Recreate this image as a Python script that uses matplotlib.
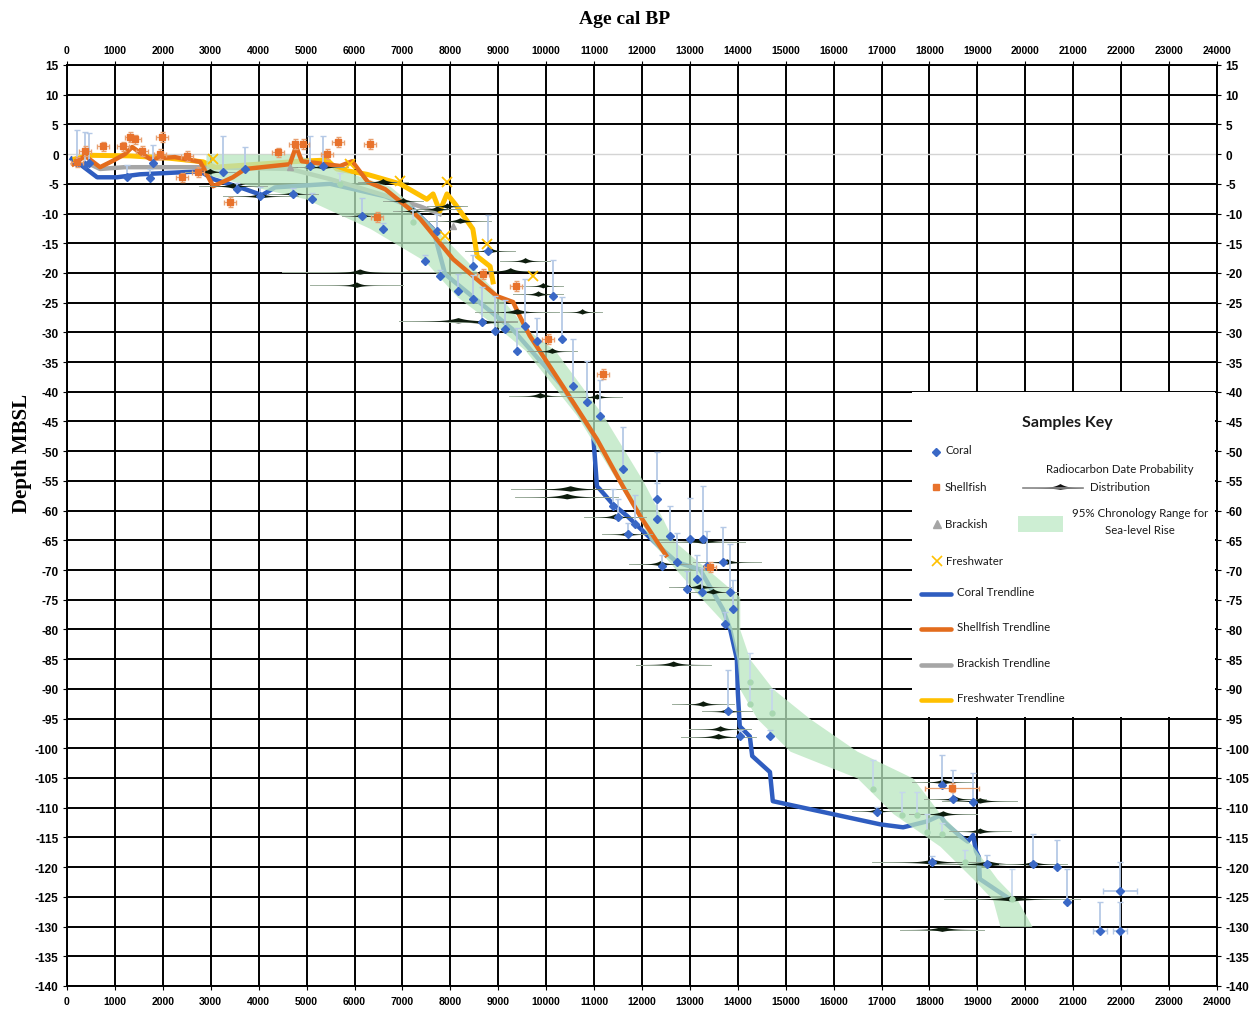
import numpy as np
import matplotlib.pyplot as plt
from matplotlib.patches import Rectangle

# 95% chronology range for sea-level rise (age limits at each depth)
band_depth = [0, -3.4, -5.4, -7.5, -12.5, -18, -24, -29.5, -33, -44, -55, -61.5, -65,
              -74.5, -80, -85, -90, -95, -100.5, -105, -111, -116.5, -122, -125.5, -130]
band_young = [2900, 2900, 3850, 4970, 6320, 7470, 8140, 9040, 9560, 10640, 11480, 11960, 12170,
              13210, 13840, 13980, 14040, 14400, 15090, 16490, 17240, 18220, 18910, 19320, 19470]
band_old = [4760, 5990, 6740, 7050, 7680, 8350, 9040, 9600, 10180, 11190, 12020, 12440, 12650,
            14040, 14040, 14250, 14730, 15500, 16490, 17650, 18220, 18910, 19410, 19830, 20140]

# Trendlines
coral_trend_age = [100, 270, 630, 1040, 1520, 2780, 3050, 3610, 4070, 4340, 5490, 6640, 7160,
                   7640, 7890, 9300, 10300, 10980, 11060, 11120, 11390, 11690, 12380, 12730,
                   13210, 13690, 13840, 13980, 14000, 14040, 14250, 14300, 14670, 14730, 16970,
                   17450, 17950, 18220, 18320, 18640, 18800, 18910, 18970, 19030, 19050, 19680]
coral_trend_depth = [-0.8, -1.7, -3.9, -3.9, -3.4, -2.9, -4.2, -5.6, -6.9, -5.6, -5.0, -7.1, -8.8,
                     -12.6, -20.2, -29.5, -38.7, -47.1, -55.9, -56.4, -58.9, -60.9, -66.2, -68.7,
                     -69.9, -76.6, -80.0, -85.0, -90.6, -96.3, -98.0, -101.3, -104.0, -108.9, -112.8,
                     -113.3, -112.3, -111.3, -112.5, -114.8, -115.7, -114.6, -117.3, -118.3, -122.0, -125.4]

shell_trend_age = [130, 380, 690, 940, 1210, 1360, 1480, 1730, 2250, 2780, 3050, 3300, 3460, 3720,
                   4650, 4780, 4900, 5700, 5950, 6280, 6640, 7160, 7370, 8060, 8470, 8970, 9310,
                   9450, 9660, 10350, 11060, 11600, 11960, 12500]
shell_trend_depth = [-1.7, -0.3, -2.2, -1.2, 0, 1.2, 0.5, -0.8, -0.5, -1.3, -5.4, -4.5, -3.9, -2.5,
                     -1.7, 1.3, -1.2, -2.0, -1.2, -4.7, -5.9, -9.3, -10.9, -17.7, -20.5, -23.9, -24.9,
                     -27.3, -30.6, -39.1, -48.0, -55.9, -60.9, -67.5]

brack_trend_age = [480, 690, 1200, 2780, 3500, 4650, 5490, 6530, 7370, 7780]
brack_trend_depth = [-1.7, -2.5, -2.2, -2.2, -2.3, -2.5, -4.2, -6.7, -8.8, -10.1]

fresh_trend_age = [170, 480, 1320, 2150, 2840, 3090, 4860, 5430, 5630, 6260, 6950, 7510, 7640,
                   7780, 7930, 8100, 8470, 8560, 8830, 8890]
fresh_trend_depth = [-0.8, -0.2, -0.3, -0.7, -1.3, -2.2, -1.2, -1.0, -2.5, -3.4, -5.0, -7.6, -6.7,
                     -9.6, -6.7, -8.4, -12.6, -17.2, -18.9, -21.5]

# Coral samples (age, depth, upper depth error, age error)
coral_age = [200, 380, 450, 1250, 1730, 1800, 3260, 3550, 3720, 4030, 4720, 5070, 5110, 5340,
             6160, 6590, 7470, 7720, 7780, 8160, 8470, 8470,
             8660, 8790, 8930, 9140, 9390, 9560, 9810, 10140, 10330, 10560, 10850, 11120, 11600,
             11390, 11500, 11850, 11710, 12310, 12310, 12580, 12420, 12730, 13000, 13270, 13360,
             13150, 12940, 13250, 13690, 13840, 13900, 13730, 13790, 14040, 14670, 18260, 18490,
             18910, 16900, 18050, 19200, 20160, 20660, 20870, 21970, 21560, 21970]
coral_depth = [-1.5, -1.8, -1.5, -3.9, -4.0, -1.5, -3.0, -5.9, -2.5, -7.1, -6.7, -2.0, -7.6, -2.0,
               -10.4, -12.6, -18.0, -13.0, -20.5, -23.1, -18.9, -24.4,
               -28.3, -16.3, -29.8, -29.5, -33.2, -29.0, -31.5, -23.9, -31.1, -39.1, -41.8,
               -44.1, -53.0, -59.3, -61.1, -62.3, -64.0, -58.1, -61.4, -64.3, -69.4, -68.7, -64.8,
               -64.8, -69.4, -71.5, -73.2, -73.7, -68.7, -73.7, -76.6, -79.1, -93.8, -98.0, -98.0,
               -106.1, -108.6, -109.1, -110.8, -119.2, -119.5, -119.5, -120.0, -125.8, -124.1,
               -130.8, -130.8]
coral_err = [5.5, 5.5, 5, 2, 1.5, 3, 6, 1, 3.7, 1.5, 1, 5, 1, 5,
             3, 1, 1, 3, 1, 3, 2, 4, 6, 6, 6, 5, 4, 8, 4, 6, 7, 8, 7, 6, 7,
             3, 3, 5, 2, 8, 6, 5, 2, 5, 7, 9, 6, 4, 3, 4, 6, 8, 5, 2, 7, 1, 1, 5, 5, 5, 1, 1, 1.5,
             5, 4.5, 5.5, 5, 5, 5]
coral_xerr = [0] * 66 + [350, 150, 150]

# Shellfish samples
shell_age = [210, 380, 750, 1170, 1320, 1420, 1570, 1980, 1940, 2400, 2500, 2730, 3400, 4400,
             4760, 4930, 5430, 5660, 6320, 6470, 8680, 9370, 10040, 11190, 13420, 18470]
shell_depth = [-1.3, 0.5, 1.3, 1.3, 2.9, 2.5, 0.5, 2.9, 0, -3.9, -0.3, -3.0, -8.1, 0.3, 1.7, 1.7,
               0, 2.0, 1.7, -10.6, -20.2, -22.2, -31.1, -37.0, -69.5, -106.6]
shell_xerr = [120] * 25 + [570]

# Brackish and freshwater samples
brack_age = [4650, 8060]
brack_depth = [-2.2, -12.1]
fresh_age = [3050, 5910, 6950, 7930, 7890, 8770, 9730]
fresh_depth = [-0.8, -1.7, -4.5, -4.7, -13.8, -15.2, -20.5]

# Modelled points along the chronology range
model_age = [5700, 7220, 14250, 14250, 14710, 16820, 17430, 17740, 17950, 18260, 18740, 19720]
model_depth = [-5.1, -11.4, -88.9, -92.6, -94.0, -106.9, -111.3, -111.3, -114.1, -114.5, -119.2, -125.4]
model_err = [2, 2, 5, 4, 4, 5, 4, 4, 3, 2, 2, 5]

# Radiocarbon date probability distributions (centre age, depth, half-width in years)
prob_age = [2980, 3460, 4030, 4720, 5070, 5340, 6160, 6590, 7010, 7220, 7720, 7930, 8160, 8680,
            6110, 6040, 8200, 8830, 9560, 9250, 9830, 9930, 9390, 10750, 10120, 9870, 11060,
            10500, 10430, 11440, 11690, 12380, 13270, 13770, 13210, 13480, 12650, 13270, 13770,
            13630, 13590, 18280, 18530, 19050, 19050, 18280, 16900, 18050, 19220, 20160, 19720, 18260]
prob_depth = [-3.0, -5.4, -7.1, -6.7, -2.2, -2.2, -10.4, -4.7, -7.9, -9.6, -9.3, -8.8, -28.1, -28.3,
              -19.9, -22.1, -11.3, -16.3, -18.0, -19.7, -23.6, -22.2, -26.6, -26.6, -33.2, -40.7,
              -40.9, -56.4, -57.7, -61.1, -64.0, -69.0, -65.2, -68.7, -72.9, -73.7, -85.9, -92.6,
              -93.8, -96.8, -98.1, -105.7, -108.6, -108.9, -114.0, -111.1, -110.6, -119.2, -119.5,
              -119.5, -125.4, -130.5]
prob_width = [310, 420, 460, 310, 250, 310, 250, 310, 250, 250, 300, 250, 730, 420, 950, 570, 380,
              310, 310, 380, 310, 250, 520, 250, 310, 380, 310, 730, 630, 380, 310, 380, 520, 420,
              380, 310, 460, 380, 310, 380, 460, 380, 380, 460, 380, 420, 310, 730, 730, 420, 830, 520]
prob_core = [0.3] * 14 + [0.15, 0.2] + [0.3] * 36

x_ticks = np.arange(0, 24001, 1000)
y_ticks = np.arange(-140, 16, 5)

fig = plt.figure(figsize=(12.5, 10.2), dpi=100)
ax = fig.add_axes([0.0536, 0.0324, 0.92, 0.9029])
ax.set_xlim(0, 24000)
ax.set_ylim(-140, 15)

# grid
ax.set_xticks(x_ticks)
ax.set_yticks(y_ticks)
ax.set_xticklabels([str(v) for v in x_ticks])
ax.set_yticklabels([str(v) for v in y_ticks])
ax.grid(True, color='black', lw=1.4)
ax.set_axisbelow(True)
for gl, t in zip(ax.get_ygridlines(), y_ticks):
    if t == 0:
        gl.set_color('#d4d4d4')
        gl.set_linewidth(1.0)
for sp in ax.spines.values():
    sp.set_linewidth(1.4)

ax.tick_params(axis='x', top=True, labeltop=True, bottom=True, labelbottom=True,
               length=3, pad=4, labelsize=7.5)
ax.tick_params(axis='y', left=True, right=True, labelleft=True, labelright=True,
               length=3, pad=3, labelsize=8.5)
for lab in ax.get_xticklabels() + ax.get_yticklabels():
    lab.set_fontfamily('Liberation Sans')
    lab.set_fontweight('bold')

# trendlines under the chronology band
ax.plot(coral_trend_age, coral_trend_depth, color='#2f5dc0', lw=3.2, zorder=2,
        solid_joinstyle='round')
ax.plot(brack_trend_age, brack_trend_depth, color='#a6a6a6', lw=3.2, zorder=2)
ax.plot(fresh_trend_age, fresh_trend_depth, color='#ffc000', lw=3.6, zorder=2,
        solid_joinstyle='round')

ax.fill_betweenx(band_depth, band_young, band_old, color='#b9e6bf', alpha=0.75, lw=0, zorder=3)

ax.plot(shell_trend_age, shell_trend_depth, color='#e36c1d', lw=3.2, zorder=4,
        solid_joinstyle='round')

# probability distributions drawn as thin spindles
for a, d, s, c in zip(prob_age, prob_depth, prob_width, prob_core):
    xs = np.linspace(a - 1.7 * s, a + 1.7 * s, 150)
    h = 0.6 * np.exp(-np.abs(xs - a) / (c * s))
    ax.plot([a - 1.7 * s, a + 1.7 * s], [d, d], color='#9fb09f', lw=0.7, zorder=5)
    ax.fill_between(xs, d - 0.55 * h, d + h, color='#0d1c0d', lw=0, zorder=5)

# modelled points
ax.errorbar(model_age, model_depth, yerr=[np.zeros(len(model_err)), model_err], fmt='o',
            ms=3.5, color='#a8d8b0', ecolor='#c4d6ec', elinewidth=1.2, capsize=2, zorder=5)

# samples
ax.errorbar(coral_age, coral_depth, yerr=[np.zeros(len(coral_err)), coral_err], xerr=coral_xerr,
            fmt='D', ms=4.2, color='#3a68c6', ecolor='#b5c9e6', elinewidth=1.3, capsize=2.2,
            zorder=6)
ax.errorbar(shell_age, shell_depth, yerr=0.8, xerr=shell_xerr, fmt='s', ms=4.8,
            color='#e8722c', ecolor='#e8a070', elinewidth=0.9, capsize=1.8, zorder=7)
ax.plot(brack_age, brack_depth, '^', ms=5, color='#a5a5a5', zorder=7, ls='none')
ax.plot(fresh_age, fresh_depth, 'x', ms=7, mew=1.3, color='#ffc000', zorder=7, ls='none')

# titles
fig.text(0.5, 1 - 19 / 1020, 'Age cal BP', ha='center', va='center',
         fontfamily='Liberation Serif', fontweight='bold', fontsize=14)
fig.text(22 / 1250, 1 - 453 / 1020, 'Depth MBSL', ha='center', va='center', rotation=90,
         fontfamily='Liberation Serif', fontweight='bold', fontsize=15)

# samples key drawn in pixel space on top of the chart
ov = fig.add_axes([0, 0, 1, 1], zorder=10)
ov.set_xlim(0, 1250)
ov.set_ylim(1020, 0)
ov.axis('off')
ov.patch.set_alpha(0)

ov.add_patch(Rectangle((912, 393), 303, 325, facecolor='white', edgecolor='none'))
key_font = dict(family='Lato', fontsize=8.3, color='#1a1a1a', va='center')
ov.text(1067, 423, 'Samples Key', ha='center', va='center', family='Lato',
        fontweight='bold', fontsize=11.5, color='#1a1a1a')

ov.plot(936, 453, 'D', ms=4.5, color='#3a68c6')
ov.text(945, 451, 'Coral', ha='left', **key_font)
ov.plot(936, 488, 's', ms=5, color='#e8722c')
ov.text(945, 488, 'Shellfish', ha='left', **key_font)
ov.plot(937, 525, '^', ms=5.5, color='#a5a5a5')
ov.text(945, 525, 'Brackish', ha='left', **key_font)
ov.plot(937, 562, 'x', ms=7, mew=1.2, color='#ffc000')
ov.text(946, 562, 'Freshwater', ha='left', **key_font)

trend_keys = [('Coral Trendline', '#2f5dc0', 595), ('Shellfish Trendline', '#e36c1d', 630),
              ('Brackish Trendline', '#a6a6a6', 666), ('Freshwater Trendline', '#ffc000', 701)]
for name, col, yy in trend_keys:
    ov.plot([921, 951], [yy, yy], color=col, lw=3.3, solid_capstyle='round')
    ov.text(957, yy - 2, name, ha='left', **key_font)

ov.text(1120, 470, 'Radiocarbon Date Probability', ha='center', **key_font)
ov.text(1120, 488, 'Distribution', ha='center', **key_font)
kx = np.linspace(1023, 1083, 120)
kh = 4.5 * np.exp(-np.abs(kx - 1060) / 7)
ov.plot([1023, 1083], [489, 489], color='#888888', lw=1.2)
ov.fill_between(kx, 489 + 0.3 * kh, 489 - kh, color='#111111', lw=0)

ov.add_patch(Rectangle((1018, 517), 45, 16, facecolor='#cdeed3', edgecolor='none'))
ov.text(1140, 514, '95% Chronology Range for', ha='center', **key_font)
ov.text(1140, 531, 'Sea-level Rise', ha='center', **key_font)

fig.savefig('out.png', dpi=100)
